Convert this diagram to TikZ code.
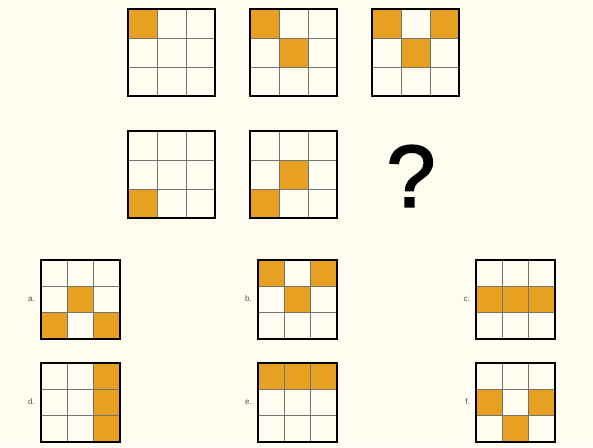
\documentclass[tikz,border=0pt]{standalone}
\usepackage{fontspec}
\setsansfont{Liberation Sans}
\newfontface\questfont[FakeBold=2]{Liberation Sans}
\usetikzlibrary{positioning}
\definecolor{paper}{HTML}{FFFDF0}
\definecolor{tileorange}{HTML}{E8A023}
\tikzset{
  gridline/.style={draw=black!55, line width=0.9pt},
  gridframe/.style={draw=black, line width=1.8pt},
  optlabel/.style={font=\sffamily\fontsize{8}{8}\selectfont, text=black!70, anchor=east, inner sep=0pt},
  quest/.style={font=\questfont\fontsize{88}{88}\selectfont, inner sep=0pt},
}
% #1,#2 top-left corner, #3 side, #4 filled cells col/row
\newcommand{\tilegrid}[4]{%
  \foreach \c/\r in {#4}
    \fill[tileorange] ({#1+\c*#3/3},{#2+\r*#3/3}) rectangle ++({#3/3},{#3/3});
  \foreach \k in {1,2} {
    \draw[gridline] ({#1+\k*#3/3},#2) -- ++(0,#3);
    \draw[gridline] (#1,{#2+\k*#3/3}) -- ++(#3,0);
  }
  \draw[gridframe] (#1,#2) rectangle ++(#3,#3);
}
\begin{document}
\begin{tikzpicture}[x=1pt, y=-1pt]
  \fill[paper] (0,0) rectangle (593,447);
  \useasboundingbox (0,0) rectangle (593,447);
  % sequence
  \tilegrid{128}{9}{87}{0/0}
  \tilegrid{250}{9}{87}{0/0, 1/1}
  \tilegrid{372}{9}{87}{0/0, 2/0, 1/1}
  \tilegrid{128}{131}{87}{0/2}
  \tilegrid{250}{131}{87}{1/1, 0/2}
  \node[quest] (qmark) at (411,176) {?};
  % answer options
  \tilegrid{41}{260}{79}{1/1, 0/2, 2/2}
  \tilegrid{258}{260}{79}{0/0, 2/0, 1/1}
  \tilegrid{476}{260}{79}{0/1, 1/1, 2/1}
  \tilegrid{41}{363}{79}{2/0, 2/1, 2/2}
  \tilegrid{258}{363}{79}{0/0, 1/0, 2/0}
  \tilegrid{476}{363}{79}{0/1, 2/1, 1/2}
  \node[optlabel] (la) at (35,299) {a.};
  \node[optlabel] (lb) at (252,299) {b.};
  \node[optlabel] (lc) at (470,299) {c.};
  \node[optlabel] (ld) at (35,402) {d.};
  \node[optlabel] (le) at (252,402) {e.};
  \node[optlabel] (lf) at (470,402) {f.};
\end{tikzpicture}
\end{document}
